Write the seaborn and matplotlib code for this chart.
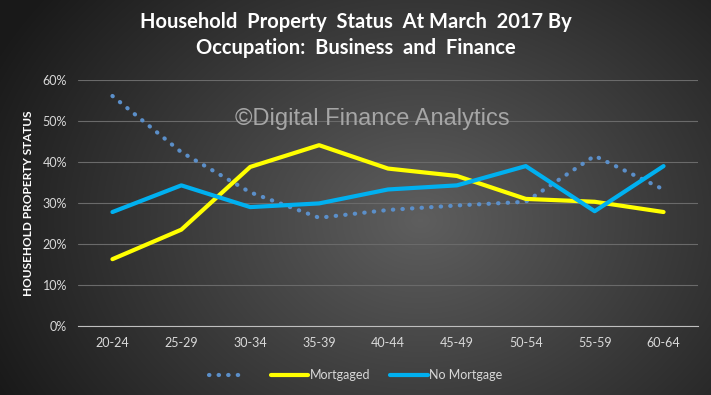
import numpy as np
import pandas as pd
import seaborn as sns
import matplotlib.pyplot as plt
from matplotlib.lines import Line2D

# Household property status by age band, Business and Finance occupation
age_bands = ['20-24', '25-29', '30-34', '35-39', '40-44', '45-49', '50-54', '55-59', '60-64']
owned = [56.1, 42.4, 32.6, 26.4, 28.3, 29.4, 30.3, 41.5, 33.3]
mortgaged = [16.3, 23.5, 38.8, 44.1, 38.4, 36.6, 31.0, 30.3, 27.8]
no_mortgage = [27.8, 34.3, 29.0, 29.9, 33.3, 34.3, 39.0, 28.0, 39.0]

df = pd.DataFrame({
    'age': age_bands * 3,
    'value': owned + mortgaged + no_mortgage,
    'series': ['Owned'] * 9 + ['Mortgaged'] * 9 + ['No Mortgage'] * 9,
})

sns.set_style('dark')
plt.rcParams['font.family'] = ['Lato', 'DejaVu Sans']

fig = plt.figure(figsize=(7.11, 3.95), dpi=100)

# radial gradient background
bg = fig.add_axes([0, 0, 1, 1], zorder=0)
yy, xx = np.mgrid[0:395, 0:711]
r = np.sqrt(((xx - 420) / 420.0) ** 2 + ((yy - 220) / 330.0) ** 2)
shade = np.clip(0.37 - 0.24 * r, 0.1, 0.4)
bg.imshow(np.dstack([shade] * 3), aspect='auto', extent=[0, 1, 0, 1])
bg.axis('off')

ax = fig.add_axes([78 / 711, 1 - 326 / 395, 620 / 711, 246 / 395], zorder=1)
ax.patch.set_alpha(0)

colors = {'Owned': '#5b8fc9', 'Mortgaged': '#ffff00', 'No Mortgage': '#00b0f0'}
for name in ['Owned', 'Mortgaged', 'No Mortgage']:
    sub = df[df['series'] == name]
    if name == 'Owned':
        sns.lineplot(data=sub, x='age', y='value', ax=ax, color=colors[name],
                     linewidth=3, linestyle=(0, (0.1, 2.2)), dash_capstyle='round',
                     sort=False)
    else:
        sns.lineplot(data=sub, x='age', y='value', ax=ax, color=colors[name],
                     linewidth=3, sort=False)

ax.set_ylim(0, 60)
ax.set_xlim(-0.5, 8.5)
ax.set_yticks(range(0, 61, 10))
ax.set_yticklabels([f'{v}%' for v in range(0, 61, 10)])
ax.grid(axis='y', color='#6a6a6a', linewidth=0.8)
ax.grid(axis='x', visible=False)
for s in ['top', 'right', 'left']:
    ax.spines[s].set_visible(False)
ax.spines['bottom'].set_color('#bfbfbf')
ax.tick_params(colors='#d9d9d9', labelsize=9, length=0, pad=8)
ax.set_xlabel('')
ax.set_ylabel('HOUSEHOLD PROPERTY STATUS', color='white', fontsize=8.5,
              fontweight='bold', labelpad=6)

fig.text(0.5, 0.945, 'Household  Property  Status  At March  2017 By',
         ha='center', va='center', color='white', fontsize=14.5, fontweight='bold')
fig.text(0.5, 0.878, 'Occupation:  Business  and  Finance',
         ha='center', va='center', color='white', fontsize=14.5, fontweight='bold')

fig.text(235 / 711, 1 - 119 / 395, '©Digital Finance Analytics', ha='left', va='center',
         color='#a6a6a6', fontsize=17, family='Liberation Sans')

handles = [
    Line2D([], [], color=colors['Owned'], linewidth=3, linestyle=(0, (0.1, 2.2)),
           dash_capstyle='round'),
    Line2D([], [], color=colors['Mortgaged'], linewidth=3),
    Line2D([], [], color=colors['No Mortgage'], linewidth=3),
]
leg = fig.legend(handles, [' ', 'Mortgaged', 'No Mortgage'], loc='center',
                 bbox_to_anchor=(0.5, 1 - 375 / 395), ncol=3, frameon=False,
                 fontsize=9, handlelength=3.0, handletextpad=0.1, columnspacing=1.6)
for t in leg.get_texts():
    t.set_color('#d9d9d9')

fig.savefig('out.png', dpi=100)
